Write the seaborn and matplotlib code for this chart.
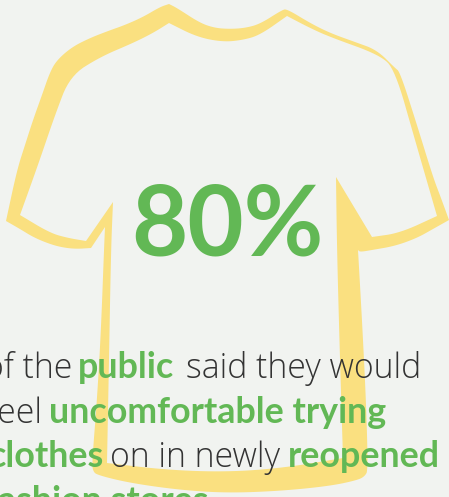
import matplotlib
matplotlib.use("Agg")
import matplotlib.pyplot as plt
import seaborn as sns
from matplotlib.path import Path
from matplotlib.patches import PathPatch

BG = "#F1F3F0"
YELLOW = "#FAE080"
GREEN = "#62B855"
DARK = "#333333"

# Shirt outline (px)
outer_x = [169,160,143,125,108,90,72,57,50,42,33,25,17,6,20,33,47,60,75,91,105,104,101,97,92,93,97,130,180,227,280,330,358,365,368,366,362,358,360,372,395,417,433,449,441,433,417,400,395,377,355,330,310,287,282,260,245,230,215,200,177,169]
outer_y = [4,7,17,25,31,38,47,60,72,95,120,145,170,221,229,237,243,247,249,248,227,250,330,400,463,471,475,483,490,493,491,486,480,476,470,400,320,250,252,250,246,238,229,220,198,177,125,72,68,50,42,33,23,9,10,24,28,29,28,23,8,4]
inner_x = [169,153,133,100,70,55,38,20,50,68,86,113,111,109,107,167,227,283,343,340,337,336,372,400,437,415,395,380,330,310,287,260,243,223,197,169]
inner_y = [23,33,43,57,76,115,165,215,233,238,241,202,250,360,463,470,472,468,458,360,250,177,237,233,216,140,70,55,37,28,16,35,40,42,37,23]
outer_sharp = [(6,221),(91,248),(105,227),(358,250),(449,220)]
inner_sharp = [(169,23),(20,215),(86,241),(113,202),(107,463),(343,458),(336,177),(372,237),(437,216),(287,16)]

headline = "80%"
line1 = [("of the", DARK, -16), ("public", GREEN, 78), ("said they would", DARK, 186)]
line2 = [("feel", DARK, -12), ("uncomfortable trying", GREEN, 49)]
line3 = [("clothes", GREEN, -11), ("on in newly", DARK, 110), ("reopened", GREEN, 288)]
line4 = [("fashion stores", GREEN, -15)]
baselines = [378, 423, 467, 512]

sns.set_theme(style="white", rc={"figure.facecolor": BG, "axes.facecolor": BG})
plt.rcParams["font.family"] = ["Lato", "DejaVu Sans"]

fig = plt.figure(figsize=(4.49, 4.97), dpi=100, facecolor=BG)
ax = fig.add_axes([0, 0, 1, 1])
ax.set_xlim(0, 449)
ax.set_ylim(497, 0)
ax.axis("off")

def rounded(xs, ys, sharp, rounds=3):
    """Corner-cutting of the drawn outline, leaving its sharp corners in place."""
    pts = list(zip(xs, ys))
    for _ in range(rounds):
        new = [pts[0]]
        for a, b in zip(pts[:-1], pts[1:]):
            q = (0.75 * a[0] + 0.25 * b[0], 0.75 * a[1] + 0.25 * b[1])
            r = (0.25 * a[0] + 0.75 * b[0], 0.25 * a[1] + 0.75 * b[1])
            if a in sharp:
                new.append(a)
            new += [q, r]
        new.append(pts[-1])
        pts = new
    return pts

def ring_part(pts):
    return pts, [Path.MOVETO] + [Path.LINETO] * (len(pts) - 2) + [Path.CLOSEPOLY]

op, oc = ring_part(rounded(outer_x, outer_y, outer_sharp))
ip, ic = ring_part(rounded(inner_x, inner_y, inner_sharp)[::-1])
ax.add_patch(PathPatch(Path(op + ip, oc + ic), fc=YELLOW, ec="none", lw=0, zorder=1))

ax.text(131, 256, headline, color=GREEN, fontsize=70, fontweight="bold", ha="left", va="baseline", zorder=3)
for line, y in zip([line1, line2, line3, line4], baselines):
    for txt, col, x in line:
        if col == GREEN:
            ax.text(x, y, txt, color=col, fontsize=25.8, ha="left", va="baseline", zorder=3, fontweight="bold")
        else:
            ax.text(x, y, txt, color=col, fontsize=24.3, ha="left", va="baseline", zorder=3,
                    family="Open Sans", fontweight="light")

fig.savefig("out.png", dpi=100, facecolor=BG)
